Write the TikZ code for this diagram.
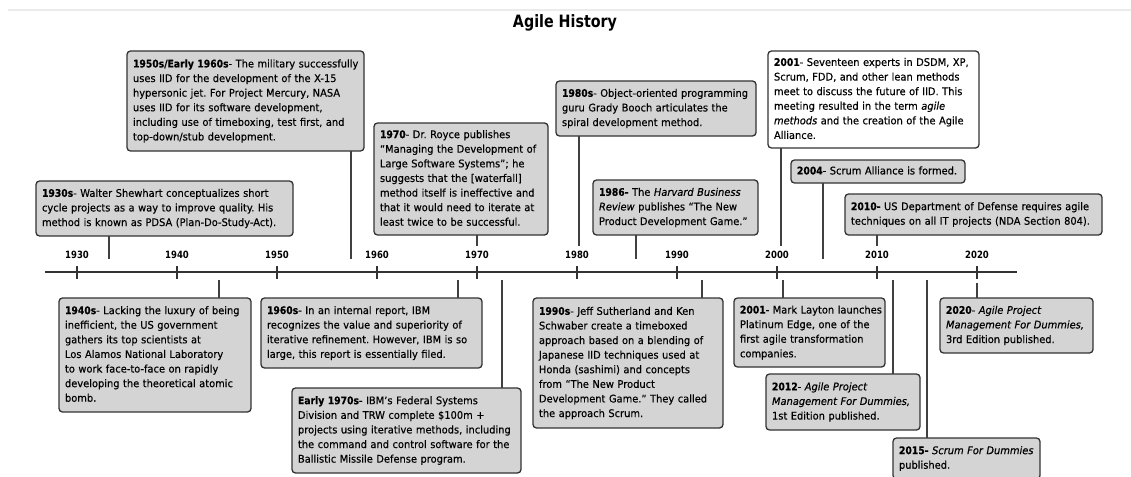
\documentclass[tikz,border=0pt]{standalone}
\usepackage{fontspec}
\setmainfont{DejaVu Sans}[FakeStretch=0.94, FakeBold=0.4, BoldFeatures={FakeStretch=0.88}]
\newfontfamily\titlefont{DejaVu Sans}[FakeStretch=0.84]
\newfontfamily\yearfont{DejaVu Sans}[FakeStretch=0.85]
\newcommand\evlines[1]{\begin{tabular}{@{}l@{}}#1\end{tabular}}
\frenchspacing
\tikzset{
  evt/.style={draw=black!80, line width=1.3pt, fill=black!17, rounded corners=3.5pt,
    anchor=north west, outer sep=0pt, inner xsep=6pt, inner ysep=0pt, align=left,
    font=\fontsize{10.5}{14.6}\selectfont},
  evw/.style={evt, fill=white},
  link/.style={draw=black!75, line width=1.1pt},
  axisline/.style={draw=black!80, line width=1.1pt},
  yearlbl/.style={font=\yearfont\fontsize{10}{11}\selectfont\bfseries, inner sep=0pt},
}
\begin{document}
\begin{tikzpicture}[x=1pt, y=-1pt]
\useasboundingbox (0,0) rectangle (1131,476);
\draw[black!8, line width=2pt] (8,10) -- (1131,10);
\node[font={\titlefont\fontsize{17}{19}\selectfont\bfseries}] (title) at (565,23) {Agile History};

% axis
\coordinate (axL) at (45,272);
\coordinate (axR) at (1017,272);
\draw[axisline] (axL) -- (axR);
\foreach \yr [count=\i from 0] in {1930,1940,...,2020} {
  \draw[axisline] ({77+100*\i},266) -- ({77+100*\i},279);
  \node[yearlbl] (y\yr) at ({77+100*\i},255) {\yr};
}

% top boxes
\node[evt, text width=245pt, minimum height=55pt] (b1930) at (36,181) {\evlines{%
\textbf{1930s}- Walter Shewhart conceptualizes short\\
cycle projects as a way to improve quality. His\\
method is known as PDSA (Plan-Do-Study-Act).}};
\node[evt, text width=225pt, minimum height=100pt] (b1950) at (127,51) {\evlines{%
\textbf{1950s/Early 1960s}- The military successfully\\
uses IID for the development of the X-15\\
hypersonic jet. For Project Mercury, NASA\\
uses IID for its software development,\\
including use of timeboxing, test first, and\\
top-down/stub development.}};
\node[evt, text width=162pt, minimum height=112pt] (b1970) at (374,123) {\evlines{%
\textbf{1970}- Dr. Royce publishes\\
“Managing the Development of\\
Large Software Systems”; he\\
suggests that the [waterfall]\\
method itself is ineffective and\\
that it would need to iterate at\\
least twice to be successful.}};
\node[evt, text width=188pt, minimum height=55pt] (b1980) at (556,81) {\evlines{%
\textbf{1980s}- Object-oriented programming\\
guru Grady Booch articulates the\\
spiral development method.}};
\node[evt, text width=153pt, minimum height=55pt] (b1986) at (593,180) {\evlines{%
\textbf{1986-} The \textit{Harvard Business}\\
\textit{Review} publishes “The New\\
Product Development Game.”}};
\node[evw, text width=199pt, minimum height=97pt] (b2001a) at (768,51) {\evlines{%
\textbf{2001}- Seventeen experts in DSDM, XP,\\
Scrum, FDD, and other lean methods\\
meet to discuss the future of IID. This\\
meeting resulted in the term \textit{agile}\\
\textit{methods} and the creation of the Agile\\
Alliance.}};
\node[evt, text width=162pt, minimum height=23pt] (b2004) at (791,160) {\evlines{%
\textbf{2004}- Scrum Alliance is formed.}};
\node[evt, text width=245pt, minimum height=41pt] (b2010) at (845,194) {\evlines{%
\textbf{2010-} US Department of Defense requires agile\\
techniques on all IT projects (NDA Section 804).}};

% bottom boxes
\node[evt, text width=180pt, minimum height=114pt] (b1940) at (59,298) {\evlines{%
\textbf{1940s}- Lacking the luxury of being\\
inefficient, the US government\\
gathers its top scientists at\\
Los Alamos National Laboratory\\
to work face-to-face on rapidly\\
developing the theoretical atomic\\
bomb.}};
\node[evt, text width=209pt, minimum height=70pt] (b1960) at (261,298) {\evlines{%
\textbf{1960s}- In an internal report, IBM\\
recognizes the value and superiority of\\
iterative refinement. However, IBM is so\\
large, this report is essentially filed.}};
\node[evt, text width=217pt, minimum height=85pt] (b1970e) at (292,388) {\evlines{%
\textbf{Early 1970s}- IBM’s Federal Systems\\
Division and TRW complete \$100m +\\
projects using iterative methods, including\\
the command and control software for the\\
Ballistic Missile Defense program.}};
\node[evt, text width=178pt, minimum height=130pt] (b1990) at (533,298) {\evlines{%
\textbf{1990s}- Jeff Sutherland and Ken\\
Schwaber create a timeboxed\\
approach based on a blending of\\
Japanese IID techniques used at\\
Honda (sashimi) and concepts\\
from “The New Product\\
Development Game.” They called\\
the approach Scrum.}};
\node[evt, text width=139pt, minimum height=69pt] (b2001b) at (734,298) {\evlines{%
\textbf{2001}- Mark Layton launches\\
Platinum Edge, one of the\\
first agile transformation\\
companies.}};
\node[evt, text width=142pt, minimum height=56pt] (b2012) at (766,374) {\evlines{%
\textbf{2012}- \textit{Agile Project}\\
\textit{Management For Dummies,}\\
1st Edition published.}};
\node[evt, text width=135pt, minimum height=41pt] (b2015) at (893,438) {\evlines{%
\textbf{2015-} \textit{Scrum For Dummies}\\
published.}};
\node[evt, text width=141pt, minimum height=55pt] (b2020) at (940,298) {\evlines{%
\textbf{2020}- \textit{Agile Project}\\
\textit{Management For Dummies,}\\
3rd Edition published.}};

% connectors from top boxes
\coordinate (e1930) at (109,259);
\coordinate (e1950) at (351,259);
\coordinate (e1970) at (477,246);
\coordinate (e1980) at (579,246);
\coordinate (e1986) at (636,259);
\coordinate (e2001a) at (781,246);
\coordinate (e2004) at (823,259);
\coordinate (e2010) at (877,246);
\foreach \n in {1930,1950,1970,1980,1986,2001a,2004,2010}
  \draw[link] (b\n.south -| e\n) -- (e\n);

% connectors to bottom boxes
\coordinate (s1940) at (219,280);
\coordinate (s1960) at (458,280);
\coordinate (s1970e) at (502,280);
\coordinate (s1990) at (702,280);
\coordinate (s2001b) at (783,280);
\coordinate (s2012) at (893,280);
\coordinate (s2015) at (927,280);
\coordinate (s2020) at (977,283);
\foreach \n in {1940,1960,1970e,1990,2001b,2012,2015,2020}
  \draw[link] (s\n) -- (s\n |- b\n.north);
\end{tikzpicture}
\end{document}
